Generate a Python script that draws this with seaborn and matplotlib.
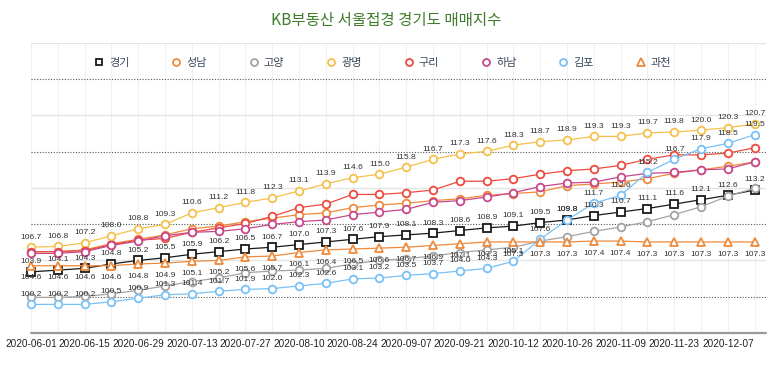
import numpy as np
import pandas as pd
import matplotlib
matplotlib.use("Agg")
import matplotlib.pyplot as plt
from matplotlib.lines import Line2D
import seaborn as sns

# ---------------- data ----------------
dates = ['2020-06-01', '2020-06-08', '2020-06-15', '2020-06-22', '2020-06-29', '2020-07-06',
         '2020-07-13', '2020-07-20', '2020-07-27', '2020-08-03', '2020-08-10', '2020-08-17',
         '2020-08-24', '2020-08-31', '2020-09-07', '2020-09-14', '2020-09-21', '2020-09-28',
         '2020-10-12', '2020-10-19', '2020-10-26', '2020-11-02', '2020-11-09', '2020-11-16',
         '2020-11-23', '2020-11-30', '2020-12-07', '2020-12-14']

gyeonggi = [103.9, 104.1, 104.3, 104.8, 105.2, 105.5, 105.9, 106.2, 106.5, 106.7, 107.0, 107.3, 107.6, 107.9,
            108.1, 108.3, 108.6, 108.9, 109.1, 109.5, 109.8, 110.3, 110.7, 111.1, 111.6, 112.1, 112.6, 113.2]
seongnam = [106.2, 106.2, 106.4, 107.1, 107.6, 108.1, 108.8, 109.1, 109.6, 110.0, 110.4, 110.6, 111.2, 111.5,
            111.7, 112.0, 112.2, 112.6, 112.8, 113.0, 113.7, 113.9, 114.1, 114.5, 115.1, 115.5, 115.9, 116.4]
goyang = [101.0, 101.0, 101.1, 101.4, 101.8, 102.3, 102.8, 103.2, 103.8, 104.0, 104.1, 104.3, 104.8, 105.2,
          105.4, 105.7, 106.1, 106.4, 106.7, 107.4, 107.9, 108.5, 109.0, 109.6, 110.4, 111.3, 112.5, 113.4]
gwangmyeong = [106.7, 106.8, 107.2, 108.0, 108.8, 109.3, 110.6, 111.2, 111.8, 112.3, 113.1, 113.9, 114.6, 115.0,
               115.8, 116.7, 117.3, 117.6, 118.3, 118.7, 118.9, 119.3, 119.3, 119.7, 119.8, 120.0, 120.3, 120.7]
guri = [106.2, 106.2, 106.3, 107.0, 107.5, 107.7, 108.4, 108.9, 109.4, 110.2, 111.2, 111.6, 112.7, 112.7,
        112.9, 113.2, 114.2, 114.2, 114.5, 115.0, 115.4, 115.6, 116.0, 116.7, 117.2, 117.2, 117.4, 118.0]
hanam = [106.0, 106.0, 106.2, 106.9, 107.4, 108.0, 108.4, 108.5, 108.8, 109.3, 109.6, 109.8, 110.4, 110.7,
         111.0, 111.8, 112.0, 112.4, 112.9, 113.6, 114.0, 114.1, 114.7, 115.1, 115.2, 115.5, 115.6, 116.4]
gimpo = [100.2, 100.2, 100.2, 100.5, 100.9, 101.3, 101.4, 101.7, 101.9, 102.0, 102.3, 102.6, 103.1, 103.2,
         103.5, 103.7, 104.0, 104.3, 105.1, 107.6, 109.8, 111.7, 112.6, 115.2, 116.7, 117.9, 118.5, 119.5]
gwacheon = [104.6, 104.6, 104.6, 104.6, 104.8, 104.9, 105.1, 105.2, 105.6, 105.7, 106.1, 106.4, 106.5, 106.6,
            106.7, 106.9, 107.1, 107.3, 107.3, 107.3, 107.3, 107.4, 107.4, 107.3, 107.3, 107.3, 107.3, 107.3]

series_names = ['경기', '성남', '고양', '광명', '구리', '하남', '김포', '과천']
series_values = [gyeonggi, seongnam, goyang, gwangmyeong, guri, hanam, gimpo, gwacheon]
title = 'KB부동산 서울접경 경기도 매매지수'

# ---------------- styles ----------------
colors = ['#1a1a1a', '#ef8a3c', '#a3a3a3', '#f5c04c', '#ee4a3e', '#c8468c', '#79c1f6', '#ee8a3c']
markers = ['s', 'o', 'o', 'o', 'o', 'o', 'o', '^']
label_pos = {'경기': 'top', '광명': 'top', '김포': 'top', '과천': 'bottom'}

sns.set_theme(style='white')
plt.rcParams['font.family'] = ['Liberation Sans', 'Noto Sans CJK KR', 'DejaVu Sans']

W, H = 773, 365
fig = plt.figure(figsize=(W / 100, H / 100), dpi=100)
left_px, right_px, top_px, bot_px = 31, 766, 42.7, 333
ax = fig.add_axes([left_px / W, (H - bot_px) / H, (right_px - left_px) / W, (bot_px - top_px) / H])

n = len(dates)
ylo, yhi = 96.95, 129.95
ax.set_ylim(ylo, yhi)
ax.set_xlim(0, (right_px - left_px) / 26.8)

# grid: faint vertical lines at each point
for i in range(n):
    ax.axvline(i, color='#f1f1f1', lw=0.8, zorder=0)
# horizontal split lines alternate solid / dotted
levels = np.linspace(ylo, yhi, 9)
for k, lv in enumerate(levels[1:], start=1):
    if k % 2 == 1:
        ax.axhline(lv, color='#555555', lw=0.8, ls=(0, (1, 1.5)), zorder=0.5)
    else:
        ax.axhline(lv, color='#e3e3e3', lw=0.9, zorder=0.5)

for s in ax.spines.values():
    s.set_visible(False)
ax.axhline(ylo, color='#9a9a9a', lw=1.6, zorder=1, clip_on=False)

df = pd.DataFrame({'idx': np.arange(n)})
for j, (name, vals) in enumerate(zip(series_names, series_values)):
    df[name] = vals
    ms = 7.3 if markers[j] == 's' else (8 if markers[j] == '^' else 7.6)
    sns.lineplot(data=df, x='idx', y=name, ax=ax, color=colors[j], lw=0.9,
                 marker=markers[j], markersize=ms * 0.72, markerfacecolor='white',
                 markeredgecolor=colors[j], markeredgewidth=1.3, clip_on=False,
                 zorder=2 + j * 0.1, legend=False)

for name, vals in zip(series_names, series_values):
    pos = label_pos.get(name)
    if pos is None:
        continue
    dy = 7.3 if pos == 'top' else -8.8
    for i, v in enumerate(vals):
        ax.annotate(f'{v:.1f}', xy=(i, v), xytext=(0, dy), textcoords='offset points',
                    ha='center', va='center', fontsize=6.1, color='#333333', zorder=5,
                    annotation_clip=False)

ax.set_xticks(range(0, n, 2))
ax.set_xticklabels([dates[i] for i in range(0, n, 2)], fontsize=7.2, color='#222222')
ax.tick_params(axis='x', length=0, pad=4.5)
ax.set_yticks([])
ax.set_xlabel('')
ax.set_ylabel('')

# title
fig.text(386 / W, 1 - 20 / H, title, ha='center', va='center', fontsize=11.2,
         color='#3e7d2c', family=['Noto Sans CJK KR', 'DejaVu Sans'])

# legend
handles = [Line2D([], [], ls='none', marker=m, markersize=5.0 if m != '^' else 5.5,
                  markerfacecolor='white', markeredgecolor=c, markeredgewidth=1.3)
           for m, c in zip(markers, colors)]
leg = fig.legend(handles, series_names, loc='center', bbox_to_anchor=(383 / W, 1 - 63 / H),
                 ncol=8, frameon=False, handlelength=0.8, handletextpad=0.5,
                 columnspacing=3.82, borderpad=0,
                 prop={'family': ['Noto Sans CJK KR', 'DejaVu Sans'], 'size': 8})
for t in leg.get_texts():
    t.set_color('#3a4a5c')

fig.savefig('out.png', dpi=100)
